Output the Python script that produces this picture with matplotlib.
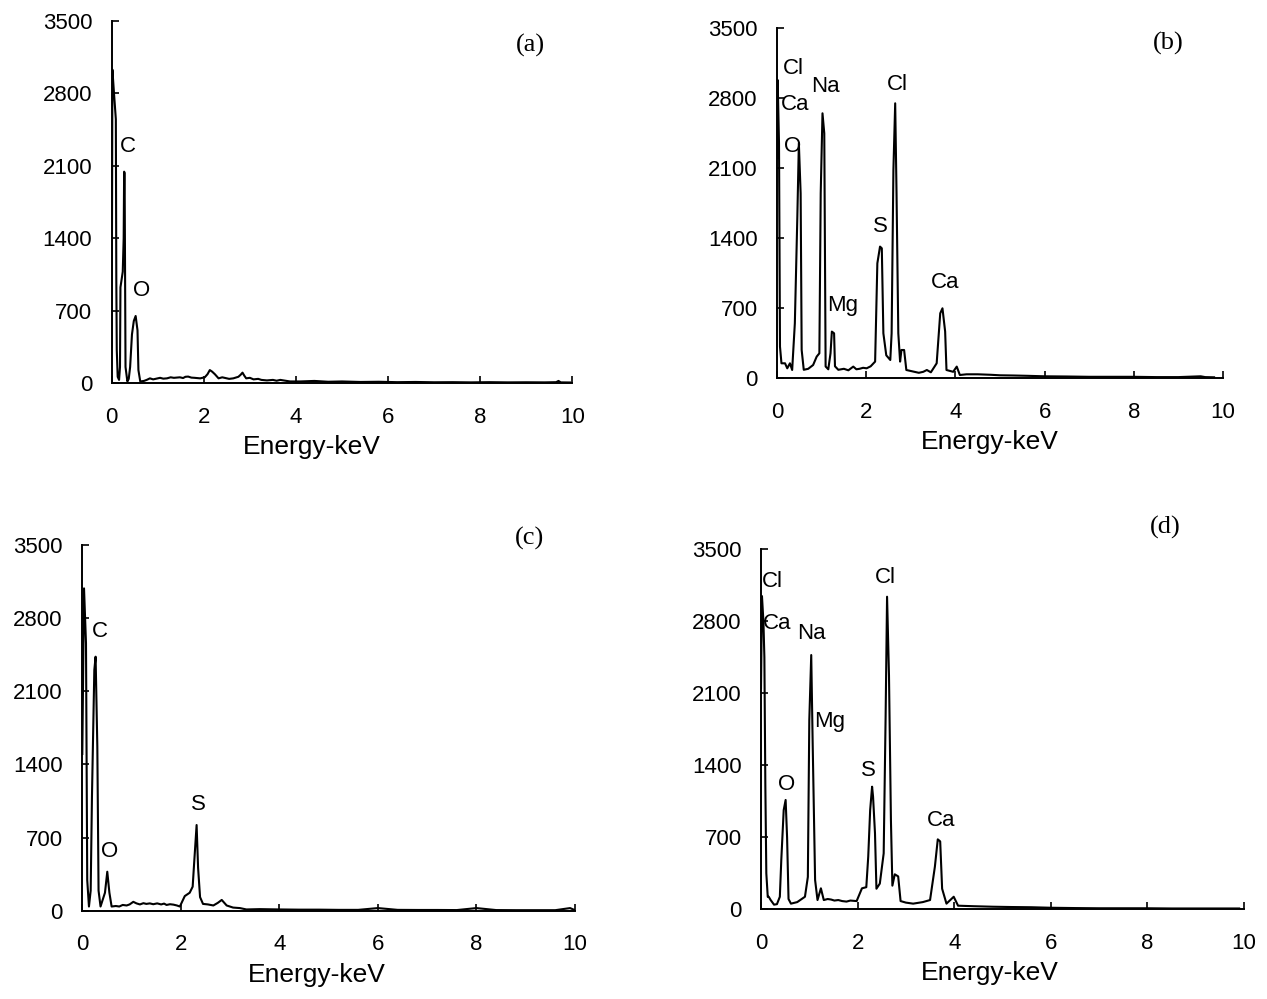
import matplotlib
matplotlib.use("Agg")
import matplotlib.pyplot as plt

plt.rcParams['font.family'] = ['Liberation Sans', 'DejaVu Sans']

W, H = 1267, 999

# ---------------- spectrum (a) ----------------
energy_a = [0.00, 0.015, 0.05, 0.09, 0.10, 0.11, 0.13, 0.16, 0.18, 0.19, 0.24, 0.26, 0.27, 0.28,
            0.30, 0.34, 0.37, 0.40, 0.44, 0.48, 0.52, 0.56, 0.58, 0.62, 0.70, 0.76, 0.83, 0.90,
            0.95, 1.05, 1.12, 1.20, 1.28, 1.35, 1.48, 1.55, 1.60, 1.66, 1.73, 1.80, 1.92, 2.02,
            2.08, 2.13, 2.18, 2.24, 2.32, 2.40, 2.45, 2.55, 2.64, 2.75, 2.80, 2.84, 2.88, 2.92,
            3.00, 3.08, 3.18, 3.25, 3.37, 3.50, 3.58, 3.66, 3.80, 3.87, 4.10, 4.40, 4.70, 5.00,
            5.40, 5.80, 6.20, 6.60, 7.00, 7.40, 7.80, 8.20, 8.60, 9.00, 9.40, 9.65, 9.70, 9.75,
            9.95]
counts_a = [350, 3030, 2800, 2550, 1000, 320, 60, 30, 155, 925, 1076, 1400, 2043, 2030,
            155, 15, 40, 155, 470, 600, 648, 510, 125, 15, 20, 30, 45, 35,
            40, 50, 42, 45, 55, 50, 55, 48, 60, 62, 52, 50, 45, 55,
            85, 125, 110, 85, 45, 55, 50, 40, 45, 60, 80, 100, 70, 45,
            50, 35, 40, 30, 25, 30, 22, 30, 20, 15, 15, 20, 12, 15,
            10, 12, 8, 10, 7, 8, 6, 8, 6, 7, 6, 8, 20, 6,
            5]
labels_a = ['C', 'O']
label_e_a = [0.35, 0.65]
label_c_a = [2282, 899]

# ---------------- spectrum (b) ----------------
energy_b = [0.00, 0.015, 0.045, 0.067, 0.10, 0.18, 0.23, 0.29, 0.34, 0.40, 0.456, 0.49, 0.53,
            0.553, 0.60, 0.70, 0.81, 0.89, 0.95, 0.98, 1.02, 1.06, 1.09, 1.15, 1.20, 1.23,
            1.28, 1.30, 1.375, 1.50, 1.60, 1.71, 1.78, 1.85, 1.93, 2.01, 2.10, 2.20, 2.25,
            2.31, 2.35, 2.385, 2.45, 2.54, 2.57, 2.61, 2.65, 2.68, 2.72, 2.76, 2.79, 2.85,
            2.90, 3.06, 3.18, 3.28, 3.36, 3.45, 3.58, 3.66, 3.71, 3.77, 3.80, 3.95, 4.03,
            4.10, 4.25, 4.50, 4.80, 5.00, 5.30, 5.60, 6.00, 6.50, 7.00, 7.50, 8.00, 8.50,
            9.00, 9.50, 9.60, 9.80]
counts_b = [2200, 2983, 2350, 317, 150, 150, 100, 150, 83, 550, 1617, 2350, 1850,
            283, 85, 95, 133, 217, 250, 1850, 2650, 2450, 118, 90, 250, 467,
            450, 120, 85, 95, 80, 117, 90, 95, 105, 100, 120, 167, 1150,
            1317, 1300, 450, 230, 183, 450, 2083, 2750, 1850, 450, 167, 283, 283,
            83, 67, 55, 65, 83, 60, 150, 650, 700, 468, 83, 65, 117,
            33, 40, 40, 35, 30, 28, 25, 20, 18, 15, 15, 15, 12,
            12, 20, 12, 10]
labels_b = ['Cl', 'Ca', 'O', 'Na', 'Mg', 'S', 'Cl', 'Ca']
label_e_b = [0.36, 0.40, 0.36, 1.09, 1.48, 2.31, 2.71, 3.77]
label_c_b = [3103, 2733, 2323, 2913, 723, 1513, 2933, 953]

# ---------------- spectrum (c) ----------------
energy_c = [0.00, 0.035, 0.075, 0.10, 0.135, 0.17, 0.196, 0.244, 0.27, 0.305, 0.33, 0.37,
            0.46, 0.507, 0.55, 0.595, 0.68, 0.75, 0.82, 0.90, 0.96, 1.035, 1.10, 1.17, 1.24,
            1.30, 1.37, 1.44, 1.52, 1.60, 1.66, 1.71, 1.78, 1.85, 1.92, 1.98, 2.08, 2.18,
            2.24, 2.27, 2.32, 2.35, 2.39, 2.45, 2.55, 2.66, 2.75, 2.83, 2.93, 3.06, 3.20,
            3.33, 3.60, 4.00, 4.40, 4.80, 5.20, 5.60, 6.00, 6.40, 6.80, 7.20, 7.60, 8.00,
            8.40, 8.80, 9.20, 9.60, 9.90, 10.0]
counts_c = [1500, 3085, 2559, 294, 40, 192, 1091, 2303, 2431, 1570, 192, 40,
            172, 373, 172, 40, 45, 40, 55, 50, 60, 85, 70, 60, 72,
            65, 70, 62, 70, 60, 68, 55, 62, 58, 50, 40, 140, 172,
            230, 455, 820, 411, 130, 65, 60, 50, 75, 103, 50, 30, 25,
            12, 15, 12, 10, 10, 8, 8, 25, 8, 7, 7, 6, 25,
            6, 5, 5, 5, 25, 5]
labels_c = ['C', 'O', 'S']
label_e_c = [0.36, 0.56, 2.35]
label_c_c = [2670, 565, 1012]

# ---------------- spectrum (d) ----------------
energy_d = [0.00, 0.02, 0.05, 0.07, 0.09, 0.11, 0.14, 0.16, 0.20, 0.27, 0.33, 0.39, 0.42,
            0.47, 0.51, 0.54, 0.57, 0.62, 0.75, 0.91, 0.97, 1.00, 1.04, 1.07, 1.12, 1.17,
            1.24, 1.30, 1.38, 1.45, 1.52, 1.60, 1.68, 1.77, 1.85, 1.98, 2.09, 2.18, 2.22,
            2.26, 2.30, 2.32, 2.36, 2.39, 2.46, 2.54, 2.58, 2.61, 2.65, 2.69, 2.72, 2.77,
            2.84, 2.89, 3.00, 3.15, 3.35, 3.50, 3.60, 3.66, 3.71, 3.75, 3.84, 3.99, 4.08,
            4.40, 4.80, 5.20, 5.60, 6.00, 6.50, 7.00, 7.50, 8.00, 8.50, 9.00, 9.50, 9.90]
counts_d = [2150, 3045, 2800, 2450, 1200, 350, 120, 122, 90, 45, 50, 122, 479,
            965, 1063, 700, 100, 55, 70, 122, 315, 1840, 2472, 1610, 285, 90,
            204, 90, 100, 95, 85, 90, 80, 75, 85, 80, 204, 215, 511,
            965, 1192, 1095, 740, 200, 250, 544, 1872, 3039, 2270, 865, 230, 340,
            320, 80, 65, 55, 70, 90, 414, 680, 660, 200, 55, 122, 35,
            30, 25, 22, 20, 15, 12, 10, 10, 10, 8, 8, 8, 8]
labels_d = ['Cl', 'Ca', 'Na', 'Mg', 'O', 'S', 'Cl', 'Ca']
label_e_d = [0.24, 0.33, 1.04, 1.43, 0.54, 2.22, 2.57, 3.72]
label_c_d = [3191, 2782, 2685, 1830, 1217, 1354, 3230, 868]

x_ticks = [0, 2, 4, 6, 8, 10]
y_ticks = [0, 700, 1400, 2100, 2800, 3500]

# axes boxes in pixels: left, right, bottom, top
panels = [
    (energy_a, counts_a, labels_a, label_e_a, label_c_a, (111.7, 572.3, 383, 21), 0.435, '(a)', (530, 45)),
    (energy_b, counts_b, labels_b, label_e_b, label_c_b, (777, 1223, 378.3, 28.3), 0.478, '(b)', (1168, 43)),
    (energy_c, counts_c, labels_c, label_e_c, label_c_c, (82.3, 575, 910.7, 545), 0.475, '(c)', (530, 538)),
    (energy_d, counts_d, labels_d, label_e_d, label_c_d, (761, 1244, 909.3, 549.3), 0.474, '(d)', (1165, 527)),
]

fig = plt.figure(figsize=(W / 100, H / 100), dpi=100)

for e, c, labs, le, lc, box, xl_pos, letter, lpos in panels:
    l, r, b, t = box
    ax = fig.add_axes([l / W, 1 - b / H, (r - l) / W, (b - t) / H])
    ax.plot(e, c, color='black', lw=1.5)
    ax.set_xlim(0, 10)
    ax.set_ylim(0, 3500)
    ax.set_xticks(x_ticks)
    ax.set_yticks(y_ticks)
    ax.spines['top'].set_visible(False)
    ax.spines['right'].set_visible(False)
    ax.spines['left'].set_linewidth(1.4)
    ax.spines['bottom'].set_linewidth(1.4)
    ax.tick_params(axis='x', direction='in', length=5, width=1.2, labelsize=16, pad=17)
    ax.tick_params(axis='y', direction='in', length=5, width=1.2, labelsize=16, pad=14)
    ax.set_xlabel('Energy-keV', fontsize=19)
    ax.xaxis.set_label_coords(xl_pos, -52 / (b - t))
    for name, xe, yc in zip(labs, le, lc):
        ax.text(xe, yc, name, fontsize=16, ha='center', va='center')
    fig.text(lpos[0] / W, 1 - lpos[1] / H, letter, fontsize=19, family='Liberation Serif',
             ha='center', va='center')

plt.savefig('out.png', dpi=100)
